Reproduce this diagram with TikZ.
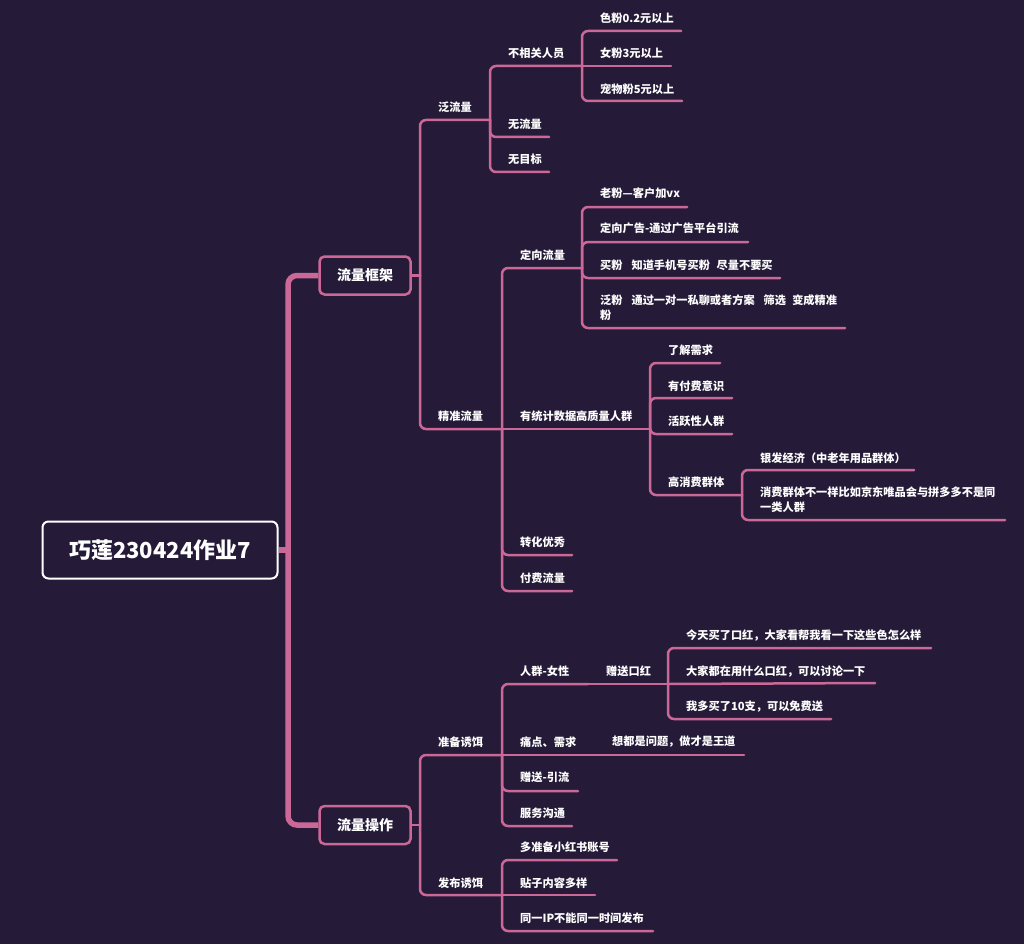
\documentclass[tikz,border=0pt]{standalone}
\usepackage{fontspec}
\setmainfont{Noto Sans CJK SC}
\definecolor{bg}{RGB}{37,27,56}
\definecolor{pk}{RGB}{204,104,152}
\begin{document}
\begin{tikzpicture}[x=1pt,y=-1pt]
\tikzset{
 conn/.style={draw=pk, line width=2.5pt, rounded corners=6pt, line cap=round},
 trunkline/.style={draw=pk, line width=5.5pt, rounded corners=9pt},
 lbl/.style={anchor=west, inner sep=0pt, text=white, font=\bfseries\fontsize{11.2}{15}\selectfont},
 box/.style={draw=pk, line width=2.5pt, rounded corners=5pt, fill=bg, text=white, minimum width=91pt, minimum height=38pt, inner sep=0pt, font=\bfseries\fontsize{14}{16}\selectfont},
 rootbox/.style={draw=white, line width=2pt, rounded corners=6pt, fill=bg, text=white, minimum width=235pt, minimum height=57pt, inner sep=0pt, font=\bfseries\fontsize{22}{24}\selectfont}
}
\fill[bg] (0,0) rectangle (1024,944);
\useasboundingbox (0,0) rectangle (1024,944);

% junctions
\coordinate (jroot) at (288,550);
\coordinate (jkj) at (420,275.5);
\coordinate (jfan) at (490,120);
\coordinate (jbxg) at (582,66);
\coordinate (jjz) at (502,429);
\coordinate (jdx) at (582,268);
\coordinate (jtj) at (650,429);
\coordinate (jgxf) at (742,495);
\coordinate (jcz) at (420,825);
\coordinate (jzb) at (502,755);
\coordinate (jrq) at (588,684);
\coordinate (jzs) at (668,684);
\coordinate (jtd) at (594,755);
\coordinate (jfb) at (502,895);
% free ends
\coordinate (sf-e) at (681,31);
\coordinate (nf-e) at (671,66);
\coordinate (cwf-e) at (682,101);
\coordinate (wll-e) at (549,137);
\coordinate (wmb-e) at (549,172);
\coordinate (lf-e) at (687,207);
\coordinate (dxgg-e) at (748,242);
\coordinate (mf-e) at (780,278);
\coordinate (ff-e) at (845,328);
\coordinate (ljxq-e) at (720,363);
\coordinate (yff-e) at (732,398);
\coordinate (hyx-e) at (732,434);
\coordinate (yfjj-e) at (914,470);
\coordinate (xfqt-e) at (1005,520);
\coordinate (zhyx-e) at (572,555);
\coordinate (fflw-e) at (572,591);
\coordinate (jt-e) at (931,648);
\coordinate (dj-e) at (875,683);
\coordinate (wd-e) at (831,719);
\coordinate (xd-e) at (744,755);
\coordinate (zsyl-e) at (578,791);
\coordinate (fwgt-e) at (572,826);
\coordinate (dzb-e) at (617,860);
\coordinate (tz-e) at (595,895);
\coordinate (tyip-e) at (653,931);

% root and main boxes
\node[rootbox] (root) at (160,550) {巧莲230424作业7};
\node[box] (kj) at (365,275.5) {流量框架};
\node[box] (cz) at (365,825) {流量操作};

% trunk
\draw[trunkline] (root.east) -- (jroot);
\draw[trunkline] (kj.west) -| (jroot) |- (cz.west);

% labels
\node[lbl] (fan) at (438,107) {泛流量};
\node[lbl] (bxg) at (508,53) {不相关人员};
\node[lbl] (sf) at (600,18) {色粉0.2元以上};
\node[lbl] (nf) at (600,53) {女粉3元以上};
\node[lbl] (cwf) at (600,89) {宠物粉5元以上};
\node[lbl] (wll) at (508,124) {无流量};
\node[lbl] (wmb) at (508,159) {无目标};

\node[lbl] (jz) at (438,416) {精准流量};
\node[lbl] (dx) at (520,255) {定向流量};
\node[lbl] (lf) at (600,193) {老粉—客户加vx};
\node[lbl] (dxgg) at (600,228) {定向广告-通过广告平台引流};
\node[lbl] (mf) at (600,265) {买粉\hspace{0.8em}知道手机号买粉\hspace{0.6em}尽量不要买};
\node[lbl, align=left] (ff) at (600,308) {泛粉\hspace{0.8em}通过一对一私聊或者方案\hspace{0.8em}筛选\hspace{0.55em}变成精准\\粉};
\node[lbl] (tj) at (520,416) {有统计数据高质量人群};
\node[lbl] (ljxq) at (668,350) {了解需求};
\node[lbl] (yff) at (668,386) {有付费意识};
\node[lbl] (hyx) at (668,421) {活跃性人群};
\node[lbl] (gxf) at (668,482) {高消费群体};
\node[lbl] (yfjj) at (760,458) {银发经济（中老年用品群体）};
\node[lbl, align=left] (xfqt) at (760,499.5) {消费群体不一样比如京东唯品会与拼多多不是同\\一类人群};
\node[lbl] (zhyx) at (520,542) {转化优秀};
\node[lbl] (fflw) at (520,578) {付费流量};

\node[lbl] (zbye) at (438,742) {准备诱饵};
\node[lbl] (rq) at (520,671) {人群-女性};
\node[lbl] (zskh) at (606,671) {赠送口红};
\node[lbl] (jt) at (686,635) {今天买了口红，大家看帮我看一下这些色怎么样};
\node[lbl] (dj) at (686,671) {大家都在用什么口红，可以讨论一下};
\node[lbl] (wd) at (686,707) {我多买了10支，可以免费送};
\node[lbl] (td) at (520,742) {痛点、需求};
\node[lbl] (xd) at (612,742) {想都是问题，做才是王道};
\node[lbl] (zsyl) at (520,777) {赠送-引流};
\node[lbl] (fwgt) at (520,813) {服务沟通};
\node[lbl] (fbye) at (438,883) {发布诱饵};
\node[lbl] (dzb) at (520,847) {多准备小红书账号};
\node[lbl] (tz) at (520,883) {贴子内容多样};
\node[lbl] (tyip) at (520,918) {同一IP不能同一时间发布};

% connectors: 流量框架
\draw[conn] (kj.east) -- (jkj);
\draw[conn] (jkj) |- (jfan);
\draw[conn] (jkj) |- (jjz);
\draw[conn] (jfan) |- (jbxg);
\draw[conn] (jfan) |- (wll-e);
\draw[conn] (jfan) |- (wmb-e);
\draw[conn] (jbxg) |- (sf-e);
\draw[conn] (jbxg) -- (nf-e);
\draw[conn] (jbxg) |- (cwf-e);
\draw[conn] (jjz) |- (jdx);
\draw[conn] (jjz) -- (jtj);
\draw[conn] (jjz) |- (zhyx-e);
\draw[conn] (jjz) |- (fflw-e);
\draw[conn] (jdx) |- (lf-e);
\draw[conn] (jdx) |- (dxgg-e);
\draw[conn] (jdx) |- (mf-e);
\draw[conn] (jdx) |- (ff-e);
\draw[conn] (jtj) |- (ljxq-e);
\draw[conn] (jtj) |- (yff-e);
\draw[conn] (jtj) |- (hyx-e);
\draw[conn] (jtj) |- (jgxf);
\draw[conn] (jgxf) |- (yfjj-e);
\draw[conn] (jgxf) |- (xfqt-e);

% connectors: 流量操作
\draw[conn] (cz.east) -- (jcz);
\draw[conn] (jcz) |- (jzb);
\draw[conn] (jcz) |- (jfb);
\draw[conn] (jzb) |- (jrq);
\draw[conn] (jrq) -- (jzs);
\draw[conn] (jzs) |- (jt-e);
\draw[conn] (jzs) -- (dj-e);
\draw[conn] (jzs) |- (wd-e);
\draw[conn] (jzb) -- (jtd);
\draw[conn] (jtd) -- (xd-e);
\draw[conn] (jzb) |- (zsyl-e);
\draw[conn] (jzb) |- (fwgt-e);
\draw[conn] (jfb) |- (dzb-e);
\draw[conn] (jfb) -- (tz-e);
\draw[conn] (jfb) |- (tyip-e);
\end{tikzpicture}
\end{document}
